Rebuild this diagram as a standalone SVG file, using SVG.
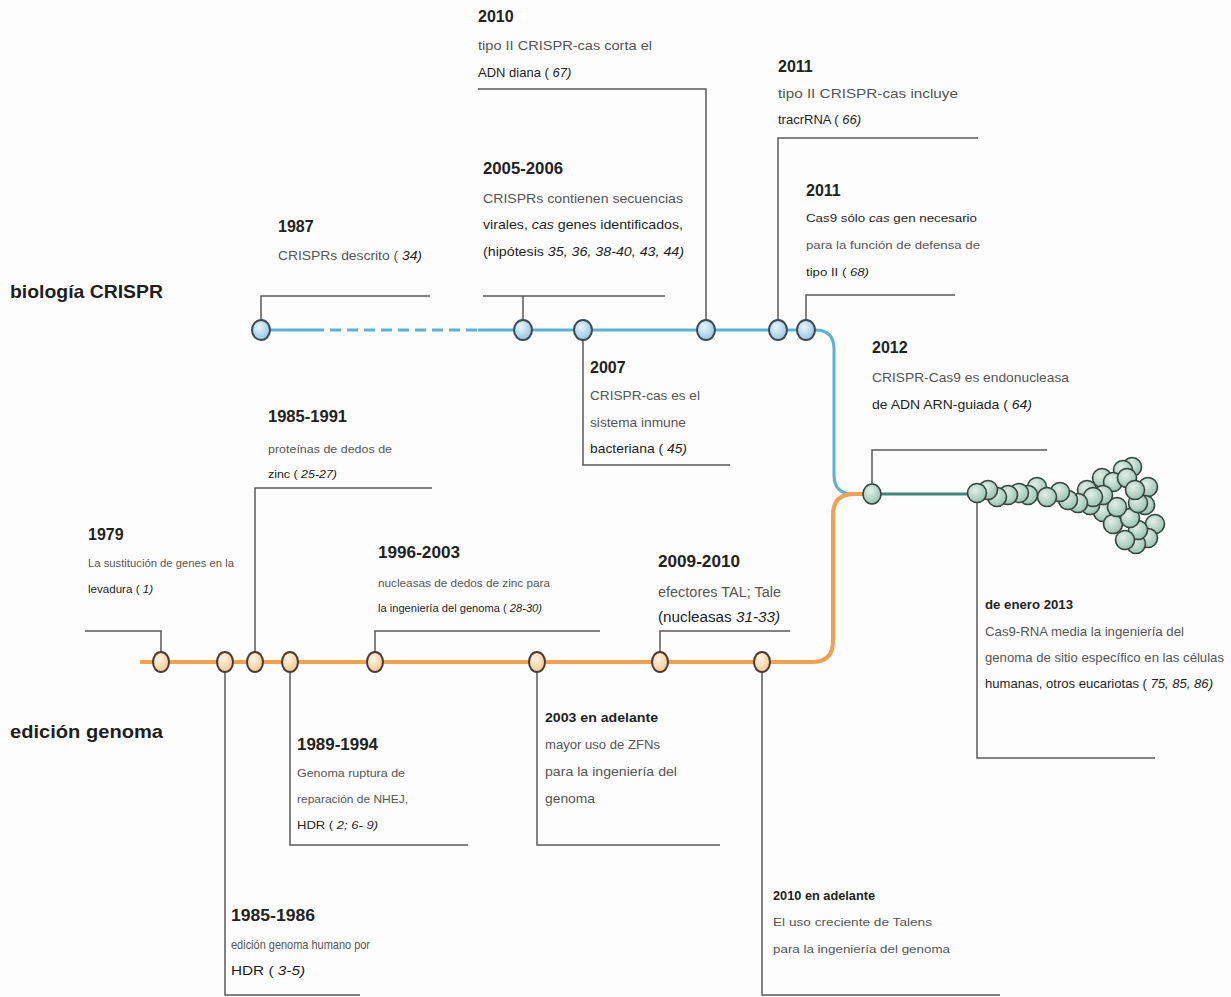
<svg xmlns="http://www.w3.org/2000/svg" width="1231" height="997" viewBox="0 0 1231 997">
<defs>
<radialGradient id="gb" cx="0.4" cy="0.35" r="0.7"><stop offset="0" stop-color="#e8f5fb"/><stop offset="1" stop-color="#8fc4df"/></radialGradient>
<radialGradient id="go" cx="0.4" cy="0.35" r="0.7"><stop offset="0" stop-color="#fff6e6"/><stop offset="1" stop-color="#f4c488"/></radialGradient>
<radialGradient id="gt" cx="0.4" cy="0.35" r="0.7"><stop offset="0" stop-color="#e2f0e9"/><stop offset="1" stop-color="#95bfae"/></radialGradient>
<style>
.lead{fill:none;stroke:#5a5a5a;stroke-width:1.5}
.nb{fill:url(#gb);stroke:#3c4a54;stroke-width:2}
.no{fill:url(#go);stroke:#4a3c32;stroke-width:2}
.nt{fill:url(#gt);stroke:#34443e;stroke-width:1.6}
text{font-family:"Liberation Sans",Arial,sans-serif;fill:#555}
.yr{font-weight:bold;fill:#222;font-size:16px}
.yrs{font-weight:bold;fill:#222;font-size:12px}
.d{font-size:13px}
.s{font-size:11.5px}
.k{fill:#1e1e1e}
.i{font-style:italic;fill:#1e1e1e}
.cat{font-weight:bold;fill:#1e1e1e;font-size:19px}
</style>
</defs>
<rect width="1231" height="997" fill="#fdfdfd"/>
<g id="connectors">
<path d="M255,330 H313" fill="none" stroke="#5ab3d4" stroke-width="3"/>
<path d="M313,330 H478" fill="none" stroke="#5ab3d4" stroke-width="3" stroke-dasharray="11,6"/>
<path d="M478,330 H815 Q834,330 834,349 V475 Q834,494 853,494 H872" fill="none" stroke="#5ab3d4" stroke-width="3"/>
<path d="M140,662 H812 Q833,662 833,641 V515 Q833,494 854,494 H872" fill="none" stroke="#f3a14f" stroke-width="4"/>
<path d="M872,494 H980" fill="none" stroke="#3d8a78" stroke-width="3"/>
<path class="lead" d="M261,330 V296 H430"/>
<path class="lead" d="M523,330 V296 M483,296 H665"/>
<path class="lead" d="M706,330 V89 H478"/>
<path class="lead" d="M778,330 V138 H978"/>
<path class="lead" d="M806,330 V295 H955"/>
<path class="lead" d="M583,330 V465 H730"/>
<path class="lead" d="M872,494 V450 H1047"/>
<path class="lead" d="M977,494 V758 H1155"/>
<path class="lead" d="M161,662 V631 H85"/>
<path class="lead" d="M255,662 V488 H432"/>
<path class="lead" d="M375,662 V631 H600"/>
<path class="lead" d="M660,662 V631 H790"/>
<path class="lead" d="M225,662 V995 H360"/>
<path class="lead" d="M290,662 V845 H468"/>
<path class="lead" d="M537,662 V845 H720"/>
<path class="lead" d="M762,662 V995 H1000"/>
</g>
<g id="labels">
<text class="cat" x="10" y="298" textLength="153" lengthAdjust="spacingAndGlyphs">biología CRISPR</text>
<text class="cat" x="10" y="738" textLength="153" lengthAdjust="spacingAndGlyphs">edición genoma</text>
</g>
<g id="n1987">
<ellipse class="nb" cx="261" cy="330" rx="9" ry="10"/>
<text class="yr" x="278" y="232">1987</text>
<text class="d" x="278" y="260" textLength="144" lengthAdjust="spacingAndGlyphs">CRISPRs descrito ( <tspan class="i">34)</tspan></text>
</g>
<g id="n2005">
<ellipse class="nb" cx="523" cy="330" rx="9" ry="10"/>
<text class="yr" x="483" y="174" textLength="80" lengthAdjust="spacingAndGlyphs">2005-2006</text>
<text class="d" x="483" y="203" textLength="200" lengthAdjust="spacingAndGlyphs">CRISPRs contienen secuencias</text>
<text class="d k" x="483" y="229" textLength="200" lengthAdjust="spacingAndGlyphs">virales, <tspan font-style="italic">cas</tspan> genes identificados,</text>
<text class="d k" x="483" y="256" textLength="201" lengthAdjust="spacingAndGlyphs">(hipótesis <tspan class="i">35, 36, 38-40, 43, 44)</tspan></text>
</g>
<g id="n2007">
<ellipse class="nb" cx="583" cy="330" rx="9" ry="10"/>
<text class="yr" x="590" y="373">2007</text>
<text class="d" x="590" y="400" textLength="110" lengthAdjust="spacingAndGlyphs">CRISPR-cas es el</text>
<text class="d" x="590" y="427" textLength="96" lengthAdjust="spacingAndGlyphs">sistema inmune</text>
<text class="d k" x="590" y="453" textLength="97" lengthAdjust="spacingAndGlyphs">bacteriana ( <tspan class="i">45)</tspan></text>
</g>
<g id="n2010">
<ellipse class="nb" cx="706" cy="330" rx="9" ry="10"/>
<text class="yr" x="478" y="22">2010</text>
<text class="d" x="478" y="50" textLength="174" lengthAdjust="spacingAndGlyphs">tipo II CRISPR-cas corta el</text>
<text class="d k" x="478" y="77">ADN diana ( <tspan class="i">67)</tspan></text>
</g>
<g id="n2011a">
<ellipse class="nb" cx="778" cy="330" rx="9" ry="10"/>
<text class="yr" x="778" y="72">2011</text>
<text class="d" x="778" y="98" textLength="180" lengthAdjust="spacingAndGlyphs">tipo II CRISPR-cas incluye</text>
<text class="d k" x="778" y="124">tracrRNA ( <tspan class="i">66)</tspan></text>
</g>
<g id="n2011b">
<ellipse class="nb" cx="806" cy="330" rx="9" ry="10"/>
<text class="yr" x="806" y="196">2011</text>
<text class="s k" x="806" y="222" textLength="171" lengthAdjust="spacingAndGlyphs">Cas9 sólo <tspan font-style="italic">cas</tspan> gen necesario</text>
<text class="s" x="806" y="249" textLength="174" lengthAdjust="spacingAndGlyphs">para la función de defensa de</text>
<text class="s k" x="806" y="276" textLength="63" lengthAdjust="spacingAndGlyphs">tipo II ( <tspan class="i">68)</tspan></text>
</g>
<g id="n2012">
<ellipse class="nt" cx="872" cy="494" rx="9" ry="10"/>
<text class="yr" x="872" y="353">2012</text>
<text class="d" x="872" y="382" textLength="197" lengthAdjust="spacingAndGlyphs">CRISPR-Cas9 es endonucleasa</text>
<text class="d k" x="872" y="409" textLength="160" lengthAdjust="spacingAndGlyphs">de ADN ARN-guiada ( <tspan class="i">64)</tspan></text>
</g>
<g id="n2013">
<g class="nt">
<circle cx="1132" cy="467" r="9.5"/><circle cx="1123" cy="470" r="9.5"/><circle cx="1102" cy="478" r="9.5"/><circle cx="1113" cy="482" r="9.5"/><circle cx="1127" cy="478" r="9.5"/>
<circle cx="1148" cy="487" r="9.5"/><circle cx="1037" cy="487" r="9.5"/><circle cx="1087" cy="490" r="9.5"/>
<circle cx="1155" cy="524" r="9.5"/><circle cx="1148" cy="538" r="9.5"/><circle cx="1136" cy="544" r="9.5"/><circle cx="1138" cy="530" r="9.5"/><circle cx="1125" cy="540" r="9.5"/><circle cx="1103" cy="512" r="9.5"/><circle cx="1113" cy="524" r="9.5"/><circle cx="1130" cy="518" r="9.5"/>
<circle cx="1145" cy="505" r="9.5"/><circle cx="1138" cy="503" r="9.5"/><circle cx="1090" cy="505" r="9.5"/><circle cx="1117" cy="507" r="9.5"/><circle cx="1135" cy="490" r="9.5"/>
<circle cx="1103" cy="495" r="9.5"/><circle cx="1093" cy="497" r="9.5"/><circle cx="1078" cy="503" r="9.5"/><circle cx="1068" cy="500" r="9.5"/><circle cx="1060" cy="492" r="9.5"/><circle cx="1047" cy="497" r="9.5"/>
<circle cx="1028" cy="495" r="9.5"/><circle cx="1019" cy="493" r="9.5"/><circle cx="1008" cy="495" r="9.5"/><circle cx="997" cy="497" r="9.5"/><circle cx="988" cy="490" r="9.5"/><circle cx="977" cy="493" r="9.5"/>
</g>
<text class="yrs" x="985" y="609" textLength="88" lengthAdjust="spacingAndGlyphs">de enero 2013</text>
<text class="d" x="985" y="636" textLength="199" lengthAdjust="spacingAndGlyphs">Cas9-RNA media la ingeniería del</text>
<text class="d" x="985" y="662" textLength="239" lengthAdjust="spacingAndGlyphs">genoma de sitio específico en las células</text>
<text class="d k" x="985" y="688" textLength="228" lengthAdjust="spacingAndGlyphs">humanas, otros eucariotas ( <tspan class="i">75, 85, 86)</tspan></text>
</g>
<g id="n1979">
<ellipse class="no" cx="161" cy="662" rx="8" ry="10"/>
<text class="yr" x="88" y="540">1979</text>
<text font-size="10.5" x="88" y="567" textLength="146" lengthAdjust="spacingAndGlyphs">La sustitución de genes en la</text>
<text font-size="10.5" class="k" x="88" y="593" textLength="65" lengthAdjust="spacingAndGlyphs">levadura ( <tspan class="i">1)</tspan></text>
</g>
<g id="n1985b">
<ellipse class="no" cx="225" cy="662" rx="8" ry="10"/>
<text class="yr" x="231" y="921" textLength="84" lengthAdjust="spacingAndGlyphs">1985-1986</text>
<text class="d" x="231" y="949" textLength="139" lengthAdjust="spacingAndGlyphs">edición genoma humano por</text>
<text class="d k" x="231" y="975" textLength="74" lengthAdjust="spacingAndGlyphs">HDR ( <tspan class="i">3-5)</tspan></text>
</g>
<g id="n1985a">
<ellipse class="no" cx="255" cy="662" rx="8" ry="10"/>
<text class="yr" x="268" y="422" textLength="79" lengthAdjust="spacingAndGlyphs">1985-1991</text>
<text class="s" x="268" y="453" textLength="124" lengthAdjust="spacingAndGlyphs">proteínas de dedos de</text>
<text class="s k" x="268" y="478" textLength="69" lengthAdjust="spacingAndGlyphs">zinc ( <tspan class="i">25-27)</tspan></text>
</g>
<g id="n1989">
<ellipse class="no" cx="290" cy="662" rx="8" ry="10"/>
<text class="yr" x="297" y="750" textLength="81" lengthAdjust="spacingAndGlyphs">1989-1994</text>
<text class="s" x="297" y="777" textLength="108" lengthAdjust="spacingAndGlyphs">Genoma ruptura de</text>
<text class="s" x="297" y="803" textLength="111" lengthAdjust="spacingAndGlyphs">reparación de NHEJ,</text>
<text class="s k" x="297" y="829" textLength="81" lengthAdjust="spacingAndGlyphs">HDR ( <tspan class="i">2; 6- 9)</tspan></text>
</g>
<g id="n1996">
<ellipse class="no" cx="375" cy="662" rx="8" ry="10"/>
<text class="yr" x="378" y="558" textLength="82" lengthAdjust="spacingAndGlyphs">1996-2003</text>
<text class="s" x="378" y="587" textLength="172" lengthAdjust="spacingAndGlyphs">nucleasas de dedos de zinc para</text>
<text class="k" font-size="11" x="378" y="612" textLength="164" lengthAdjust="spacingAndGlyphs">la ingeniería del genoma ( <tspan class="i">28-30)</tspan></text>
</g>
<g id="n2003">
<ellipse class="no" cx="537" cy="662" rx="8" ry="10"/>
<text class="yrs" x="545" y="722" textLength="113" lengthAdjust="spacingAndGlyphs">2003 en adelante</text>
<text class="d" x="545" y="749" textLength="115" lengthAdjust="spacingAndGlyphs">mayor uso de ZFNs</text>
<text class="d" x="545" y="776" textLength="132" lengthAdjust="spacingAndGlyphs">para la ingeniería del</text>
<text class="d" x="545" y="803" textLength="50" lengthAdjust="spacingAndGlyphs">genoma</text>
</g>
<g id="n2009">
<ellipse class="no" cx="660" cy="662" rx="8" ry="10"/>
<text class="yr" x="658" y="567" textLength="82" lengthAdjust="spacingAndGlyphs">2009-2010</text>
<text font-size="14" x="658" y="597" textLength="123" lengthAdjust="spacingAndGlyphs">efectores TAL; Tale</text>
<text font-size="14" class="k" x="658" y="622" textLength="122" lengthAdjust="spacingAndGlyphs">(nucleasas <tspan class="i">31-33)</tspan></text>
</g>
<g id="n2010b">
<ellipse class="no" cx="762" cy="662" rx="8" ry="10"/>
<text class="yrs" x="773" y="900" textLength="102" lengthAdjust="spacingAndGlyphs">2010 en adelante</text>
<text class="s" x="773" y="926" textLength="159" lengthAdjust="spacingAndGlyphs">El uso creciente de Talens</text>
<text class="s" x="773" y="953" textLength="177" lengthAdjust="spacingAndGlyphs">para la ingeniería del genoma</text>
</g>
</svg>
